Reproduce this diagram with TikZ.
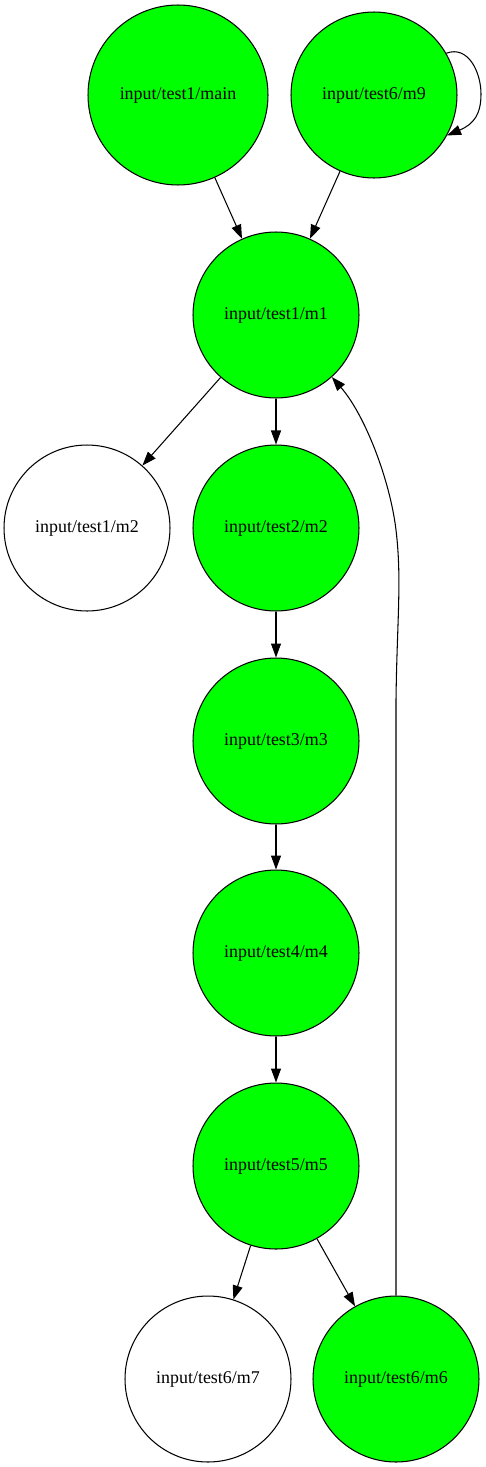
\documentclass[tikz,border=0pt]{standalone}
\usepackage{fontspec}
\setmainfont{Liberation Serif}
\usetikzlibrary{arrows.meta}
\definecolor{CallGreen}{RGB}{0,255,0}

\begin{document}
\begin{tikzpicture}[
        x=0.02cm, y=-0.02cm,
        % --- COMMON STYLE ---
        common/.style={
            circle,
            draw=black,
            line width=0.6pt,
            minimum size=3.32cm,
            inner sep=0pt,
            font=\fontsize{10.2}{12}\selectfont
        },
        % reached node (green)
        reached_node/.style={
            common,
            fill=CallGreen
        },
        % unreached node (white)
        plain_node/.style={
            common,
            fill=white
        },
        % call edge
        call/.style={
            draw=black,
            line width=0.6pt,
            -{Triangle[length=0.28cm, width=0.2cm]}
        }
    ]

        \useasboundingbox (0,0) rectangle (486,1467);

        % --- NODES ---
        \node[reached_node, minimum size=3.6cm] (main) at (178,95) {input/test1/main};
        \node[reached_node] (m9) at (374,95) {input/test6/m9};
        \node[reached_node] (m1) at (276,315) {input/test1/m1};
        \node[plain_node] (t1m2) at (87,528) {input/test1/m2};
        \node[reached_node] (t2m2) at (276,528) {input/test2/m2};
        \node[reached_node] (m3) at (276,741) {input/test3/m3};
        \node[reached_node] (m4) at (276,953) {input/test4/m4};
        \node[reached_node] (m5) at (276,1166) {input/test5/m5};
        \node[plain_node] (m7) at (208,1379) {input/test6/m7};
        \node[reached_node] (m6) at (396,1379) {input/test6/m6};

        % --- EDGES ---
        \foreach \from/\to in {main/m1, m9/m1, m1/t1m2, m1/t2m2, t2m2/m3, m3/m4, m4/m5, m5/m7, m5/m6} {
            \draw[call] (\from) -- (\to);
        }

        % self loop on m9
        \draw[call] (m9.30) .. controls (468,45) and (481,72) .. (481,94)
            .. controls (481,114) and (474,124) .. (m9.-29);

        % back edge m6 -> m1
        \draw[call] (m6.north) -- (396,700)
            .. controls (397,620) and (402,580) .. (396,530)
            .. controls (390,480) and (365,415) .. (m1.-48);

    \end{tikzpicture}
\end{document}
